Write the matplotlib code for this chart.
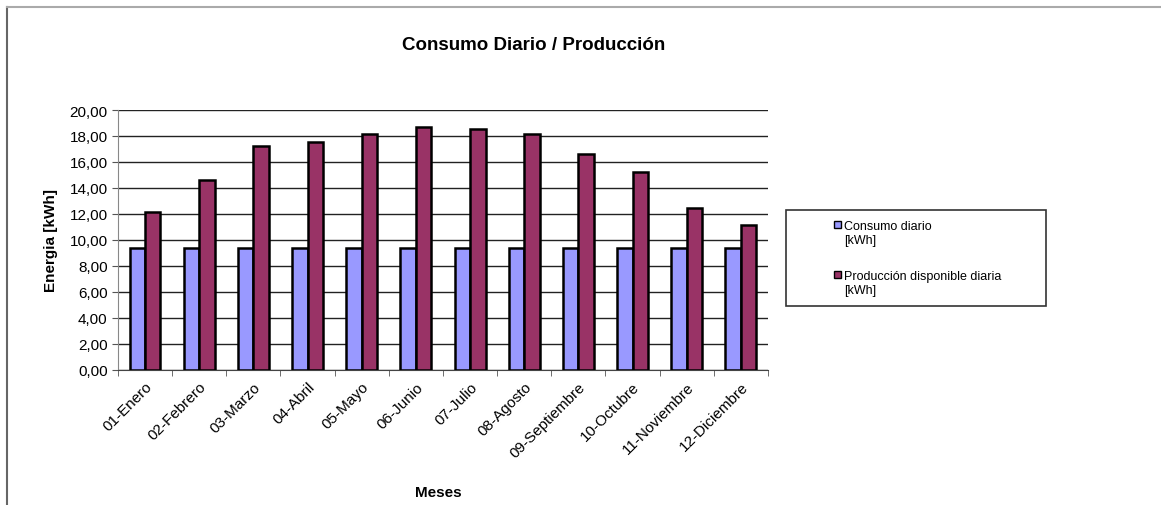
import matplotlib.pyplot as plt
import numpy as np
from matplotlib.lines import Line2D
from matplotlib.patches import Rectangle

plt.rcParams['font.family'] = ['Liberation Sans', 'DejaVu Sans']

meses = ['01-Enero', '02-Febrero', '03-Marzo', '04-Abril', '05-Mayo', '06-Junio',
         '07-Julio', '08-Agosto', '09-Septiembre', '10-Octubre', '11-Noviembre',
         '12-Diciembre']
consumo = [9.4, 9.4, 9.4, 9.4, 9.4, 9.4, 9.4, 9.4, 9.4, 9.4, 9.4, 9.4]
produccion = [12.13, 14.6, 17.26, 17.52, 18.13, 18.67, 18.54, 18.13, 16.59,
              15.26, 12.46, 11.15]
y_ticks = [0, 2, 4, 6, 8, 10, 12, 14, 16, 18, 20]
series_names = ['Consumo diario\n[kWh]', 'Producción disponible diaria\n[kWh]']
series_colors = ['#9999FF', '#993366']

W, H = 1161, 506
fig = plt.figure(figsize=(W / 100, H / 100), dpi=100)
ax = fig.add_axes([0.1016, 0.2674, 0.5599, 0.5132])

x = np.arange(len(meses))
w = 0.285
ax.bar(x - w / 2, consumo, w, color=series_colors[0], edgecolor='black',
       linewidth=1.8, zorder=3)
ax.bar(x + w / 2, produccion, w, color=series_colors[1], edgecolor='black',
       linewidth=1.8, zorder=3)

ax.set_xlim(-0.5, len(meses) - 0.5)
ax.set_ylim(0, 20)
ax.set_yticks(y_ticks)
ax.set_yticklabels(['{:.2f}'.format(v).replace('.', ',') for v in y_ticks], fontsize=11)
ax.yaxis.grid(True, color='#222222', linewidth=1.0, zorder=0)

ax.set_xticks(x)
ax.set_xticklabels(meses, rotation=45, ha='right', rotation_mode='anchor', fontsize=11)
ax.tick_params(axis='x', length=0, pad=7)
ax.set_xticks(np.arange(-0.5, len(meses)), minor=True)
ax.tick_params(axis='x', which='minor', length=4, color='#555555')
ax.tick_params(axis='y', length=4, color='#555555')

for s in ['top', 'right']:
    ax.spines[s].set_visible(False)
ax.spines['left'].set_color('#888888')
ax.spines['bottom'].set_color('#444444')

ax.set_ylabel('Energia [kWh]', fontsize=11, fontweight='bold', labelpad=8)
fig.text(438 / W, 1 - 493 / H, 'Meses', fontsize=11, fontweight='bold',
         ha='center', va='center')
fig.text(534 / W, 1 - 45 / H, 'Consumo Diario / Producción', fontsize=13.5,
         fontweight='bold', ha='center', va='center')

# legend, Excel style: box with markers aligned to the first text line
fig.add_artist(Rectangle((786 / W, 1 - 307 / H), 260 / W, 96 / H,
                         transform=fig.transFigure, facecolor='white',
                         edgecolor='#333333', linewidth=1.2))
for i, (name, col) in enumerate(zip(series_names, series_colors)):
    top = 221 + i * 50
    fig.add_artist(Rectangle((834 / W, 1 - (top + 8) / H), 7 / W, 7 / H,
                             transform=fig.transFigure, facecolor=col,
                             edgecolor='black', linewidth=1))
    fig.text(844 / W, 1 - top / H, name, fontsize=9, ha='left', va='top',
             linespacing=1.25)

# outer chart border (top and left edges visible)
fig.add_artist(Line2D([7 / W, 7 / W], [0, 1 - 8 / H], color='#666666',
                      linewidth=1.5, transform=fig.transFigure))
fig.add_artist(Line2D([7 / W, 1], [1 - 8 / H, 1 - 8 / H], color='#aaaaaa',
                      linewidth=1.5, transform=fig.transFigure))

fig.savefig('out.png', dpi=100)
